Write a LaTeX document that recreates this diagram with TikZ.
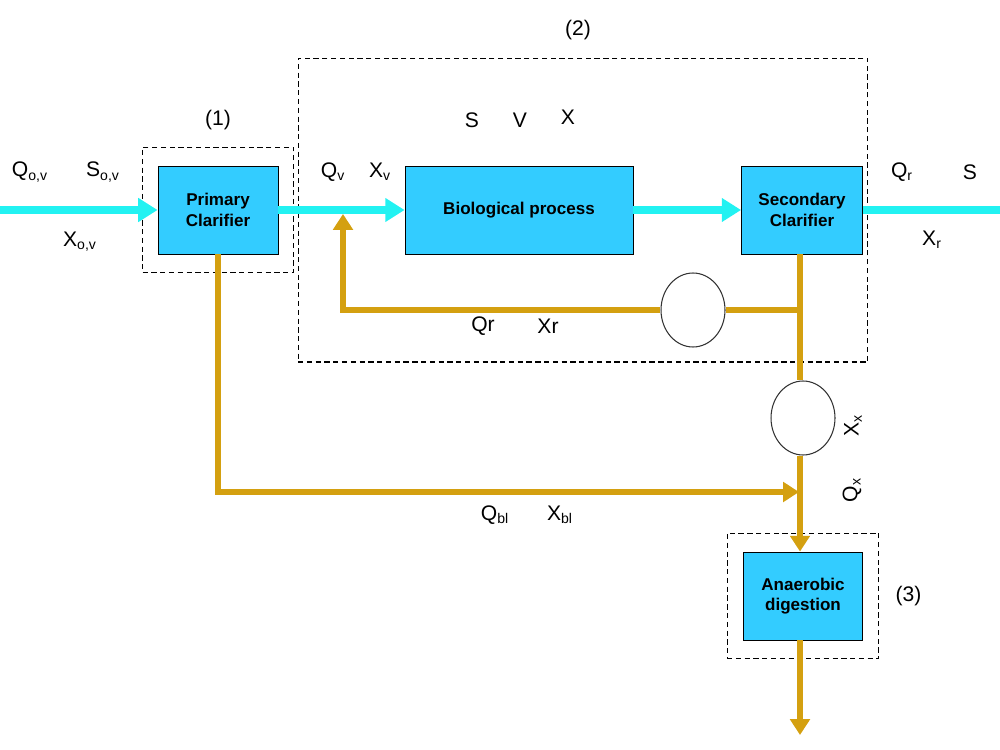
\documentclass[tikz,border=0pt]{standalone}
\usepackage{fontspec}
\setmainfont{Liberation Sans}
\usetikzlibrary{arrows.meta,positioning,shapes.geometric,fit}
\definecolor{flowcyan}{HTML}{22F2F2}
\definecolor{boxblue}{HTML}{33CCFF}
\definecolor{sludgegold}{HTML}{D4A010}

\begin{document}
\begin{tikzpicture}[
  x=0.02cm, y=-0.02cm,
  every node/.style={font=\fontsize{12}{14}\selectfont},
  unit/.style={rectangle, draw=black, line width=0.5pt, fill=boxblue, minimum height=1.76cm, align=center, font=\fontsize{9.7}{11.5}\selectfont\bfseries},
  stagebox/.style={rectangle, draw=black, densely dashed, line width=0.6pt},
  pump/.style={ellipse, draw=black!80, line width=0.6pt, fill=white, minimum width=1.28cm, minimum height=1.48cm},
  feed/.style={flowcyan, line width=4.5pt, -{Triangle[length=11pt, width=13pt]}},
  sludge/.style={sludgegold, line width=3.4pt},
  sludgearrow/.style={sludge, -{Triangle[length=9pt, width=11pt]}},
]
\useasboundingbox (0,0) rectangle (1000,750);

% Treatment units
\node[unit, minimum width=2.4cm] (prim) at (218,210) {Primary\\Clarifier};
\node[unit, minimum width=4.56cm] (bio) at (519,210) {Biological process};
\node[unit, minimum width=2.42cm] (sec) at (802,210) {Secondary\\Clarifier};
\node[unit, minimum width=2.38cm] (anae) at (803,596) {Anaerobic\\digestion};

% Stage boundaries
\node[stagebox, fit=(prim), inner xsep=0.3cm, inner ysep=0.37cm] (stage1) {};
\node[stagebox, minimum width=11.4cm, minimum height=6.08cm] (stage2) at (583,210) {};
\node[stagebox, fit=(anae), inner xsep=0.32cm, inner ysep=0.37cm] (stage3) {};
\node[above=0.2cm of stage1] (lab1) {(1)};
\node (lab2) at (578,30) {(2)};
\node[right=0.2cm of stage3] (lab3) {(3)};

% Pumps
\node[pump] (pumpr) at (693,310) {};
\node[pump] (pumpw) at (803,418) {};

% Free ends
\coordinate (in) at (0,210);
\coordinate (out) at (1000,210);
\coordinate (split) at (800,310);
\coordinate (ret) at (343,214);
\coordinate (bljoin) at (799,492);
\coordinate (sink) at (800,735);

% Liquid line
\draw[feed] (in) -- (prim.west);
\draw[feed] (prim.east) -- (bio.west);
\draw[feed] (bio.east) -- (sec.west);
\draw[feed, -] (sec.east) -- (out);

% Sludge lines
\draw[sludge] (sec.south -| split) -- (pumpw.north -| split);
\draw[sludge] (split) -- (pumpr.east);
\draw[sludgearrow] (pumpr.west) -| (ret);
\draw[sludgearrow] (prim.south) |- (bljoin);
\draw[sludgearrow] (pumpw.south -| split) -- (anae.north -| split);
\draw[sludgearrow] (anae.south -| split) -- (sink);

% Stream variables
\node (qov) at (30,172) {Q\textsubscript{o,v}};
\node (sov) at (103,172) {S\textsubscript{o,v}};
\node (xov) at (80,242) {X\textsubscript{o,v}};
\node (qv) at (333,172) {Q\textsubscript{v}};
\node (xv) at (380,172) {X\textsubscript{v}};
\node (svar) at (472,120) {S};
\node (vvar) at (520,120) {V};
\node (xvar) at (568,117) {X};
\node (qout) at (902,172) {Q\textsubscript{r}};
\node (sout) at (970,172) {S};
\node (xout) at (932,240) {X\textsubscript{r}};
\node (qr) at (483,326) {Qr};
\node (xr) at (548,326) {Xr};
\node (qbl) at (495,515) {Q\textsubscript{bl}};
\node (xbl) at (560,515) {X\textsubscript{bl}};
\node[rotate=90] (xw) at (853,426) {X\textsubscript{x}};
\node[rotate=90] (qw) at (852,490) {Q\textsubscript{x}};

\end{tikzpicture}
\end{document}
